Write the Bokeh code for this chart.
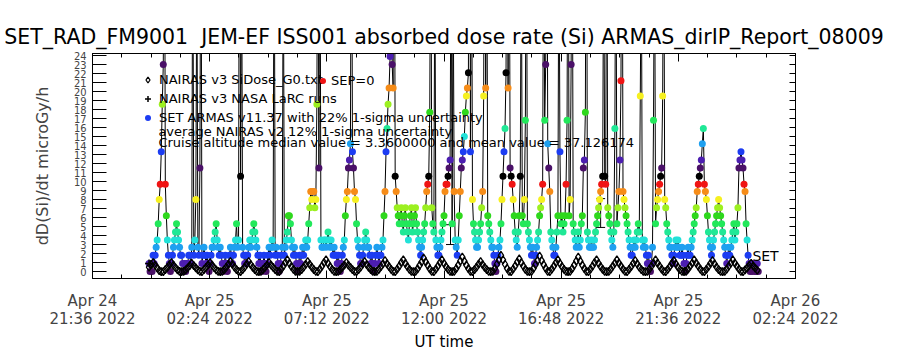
import pandas as pd
from bokeh.plotting import figure
from bokeh.models import (ColumnDataSource, Range1d, LinearAxis, DatetimeAxis, FixedTicker,
                          DatetimeTickFormatter, Legend, LegendItem, Label, Whisker, TeeHead, Title)
from bokeh.embed import file_html
from bokeh.resources import INLINE

# ---------------- data ----------------
title_text = "SET_RAD_FM9001\u00a0 JEM-EF ISS001 absorbed dose rate (Si) ARMAS_dirIP_Report_08009"

# SET ARMAS dose rate (microGy/h), 2.5 min cadence
set_start = "2022-04-24 23:55"
set_cadence = "150s"
set_dose = [
    0.9, 0, 0.9, 0, 1.8, 0.9, 1.8, 2.7, 3.5, 5.3, 8, 9.7, 13.3, 18.6, 23, 55, 9.7, 6.2, 3.5,
    1.8, 0.9, 0, 0.9, 1.8, 2.7, 3.5, 4.4, 5.3, 4.4, 3.5, 2.7, 1.8, 1.8, 0.9, 0, 0.9, 0, 0.9,
    0.9, 1.8, 1.8, 0.9, 2.7, 42, 1.8, 3.5, 8, 35, 2.7, 1.8, 11.5, 48, 0.9, 1.8, 2.7, 1.8, 0.9,
    1.8, 0.9, 0, 0.9, 1.8, 2.7, 2.7, 3.5, 4.4, 5.3, 3.5, 2.7, 1.8, 2.7, 1.8, 0.9, 0, 0.9, 1.8,
    0.9, 0, 0.9, 1.8, 2.7, 1.8, 0.9, 1.8, 2.7, 3.5, 5.3, 2.7, 3.5, 60, 10.6, 38, 2.7, 1.8, 0.9,
    1.8, 0.9, 1.8, 2.7, 3.5, 2.7, 3.5, 4.4, 5.3, 4.4, 3.5, 2.7, 1.8, 0.9, 1.8, 0.9, 0, 0.9, 1.8,
    0.9, 0, 0.9, 1.8, 2.7, 1.8, 2.7, 3.5, 2.7, 45, 1.8, 2.7, 1.8, 0.9, 0, 0.9, 1.8, 2.7, 40,
    1.8, 2.7, 3.5, 4.4, 6.2, 6.2, 5.3, 3.5, 2.7, 1.8, 2.7, 1.8, 0.9, 0, 0.9, 1.8, 0.9, 1.8, 2.7,
    1.8, 2.7, 3.5, 2.7, 3.5, 5.3, 7.1, 8.9, 8, 8.9, 8.9, 7.1, 8, 18.6, 50, 11.5, 44, 3.5, 2.7,
    2.7, 3.5, 3.5, 2.7, 3.5, 4.4, 3.5, 2.7, 3.5, 2.7, 1.8, 2.7, 1.8, 1.8, 0.9, 1.8, 0.9, 0, 0.9,
    1.8, 2.7, 3.5, 6.2, 8, 8.9, 11.5, 12.4, 14.2, 52, 13.3, 11.5, 8.9, 8, 5.3, 3.5, 2.7, 1.8, 0.9,
    0.9, 1.8, 2.7, 3.5, 4.4, 3.5, 2.7, 2.7, 1.8, 0.9, 1.8, 0.9, 0, 0.9, 1.8, 2.7, 1.8, 0.9, 1.8,
    1.8, 2.7, 3.5, 6.2, 8.9, 13.3, 15.9, 18.6, 20.4, 23.9, 65, 23, 20.4, 58, 10.6, 8.9, 7.1, 6.2, 5.3,
    6.2, 7.1, 5.3, 4.4, 6.2, 7.1, 5.3, 4.4, 3.5, 5.3, 6.2, 7.1, 4.4, 5.3, 6.2, 7.1, 5.3, 4.4, 3.5,
    2.7, 1.8, 2.7, 3.5, 4.4, 5.3, 7.1, 8.9, 9.7, 10.6, 17.7, 47, 7.1, 5.3, 4.4, 36, 3.5, 2.7, 1.8,
    1.8, 2.7, 3.5, 4.4, 5.3, 6.2, 8.9, 9.7, 9.7, 10.6, 11.5, 12.4, 40, 5.3, 33, 8.9, 3.5, 2.7, 1.8,
    3.5, 6.2, 8.9, 11.5, 12.4, 13.3, 15, 17.7, 19.5, 20.4, 22.1, 70, 13.3, 45, 8, 5.3, 4.4, 3.5, 2.7,
    2.7, 3.5, 4.4, 5.3, 7.1, 8.9, 19.5, 55, 20.4, 42, 6.2, 5.3, 4.4, 3.5, 2.7, 2.7, 1.8, 0.9, 0,
    0.9, 1.8, 2.7, 3.5, 5.3, 8, 10.6, 13.3, 15.9, 22.1, 62, 20.4, 50, 11.5, 10.6, 9.7, 8, 6.2, 4.4,
    3.5, 2.7, 4.4, 6.2, 10.6, 38, 6.2, 5.3, 8, 16.8, 46, 5.3, 4.4, 3.5, 2.7, 1.8, 2.7, 1.8, 0.9,
    1.8, 2.7, 3.5, 4.4, 6.2, 7.1, 8, 9.7, 44, 16.8, 23, 57, 14.2, 11.5, 8.9, 4.4, 3.5, 2.7, 1.8,
    1.8, 2.7, 4.4, 6.2, 41, 13.3, 5.3, 6.2, 4.4, 5.3, 6.2, 9.7, 16.8, 53, 6.2, 8, 23, 48, 5.3,
    4.4, 3.5, 2.7, 3.5, 4.4, 2.7, 3.5, 5.3, 6.2, 11.5, 12.4, 17.7, 60, 4.4, 3.5, 2.7, 2.7, 3.5, 2.7,
    2.7, 3.5, 4.4, 5.3, 6.2, 7.1, 8, 8.9, 9.7, 10.6, 39, 10.6, 9.7, 47, 7.1, 6.2, 5.3, 4.4, 3.5,
    2.7, 4.4, 15.9, 43, 5.3, 7.1, 8.9, 12.4, 21.2, 56, 8.9, 8, 7.1, 6.2, 5.3, 4.4, 3.5, 2.7, 1.8,
    1.8, 2.7, 3.5, 2.7, 3.5, 4.4, 5.3, 4.4, 19.5, 37, 3.5, 2.7, 3.5, 2.7, 1.8, 0.9, 1.8, 0.9, 0,
    0.9, 2.7, 16.8, 40, 5.3, 7.1, 8, 8.9, 9.7, 10.6, 11.5, 19.5, 45, 8, 7.1, 5.3, 4.4, 3.5, 2.7,
    2.7, 1.8, 0.9, 1.8, 2.7, 3.5, 2.7, 3.5, 2.7, 1.8, 1.8, 2.7, 1.8, 0.9, 0, 0.9, 1.8, 2.7, 1.8,
    1.8, 2.7, 3.5, 4.4, 5.3, 6.2, 7.1, 8.9, 9.7, 10.6, 11.5, 12.4, 14.2, 15.9, 9.7, 8.9, 8, 6.2, 4.4,
    3.5, 2.7, 1.8, 2.7, 3.5, 4.4, 5.3, 6.2, 7.1, 8, 7.1, 6.2, 5.3, 4.4, 3.5, 2.7, 1.8, 0.9, 1.8,
    2.7, 1.8, 2.7, 3.5, 4.4, 5.3, 3.5, 4.4, 5.3, 7.1, 11.5, 12.4, 13.3, 12.4, 11.5, 9.7, 8.9, 5.3, 3.5,
    1.8, 0.9, 0, 0.9, 0, 0.9, 0.9, 0, 0, 0.9, 0,
]

# NAIRAS v3 SiDose_G0 (microGy/h), 5 min cadence
nairas_start = "2022-04-24 23:55"
nairas_cadence = "5min"
nairas_dose = [
    0.5, 0.8, 1.0, 0.7, 0.4, 0.1, 0,
    0, 0.2, 0.45, 0.75, 1.0, 0.7, 0.42, 0.18, 0.02,
    0, 0.02, 0.18, 0.41, 0.65, 0.9, 0.65, 0.41, 0.18, 0.02,
    0, 0.2, 0.45, 0.75, 1.0, 0.7, 0.42, 0.18, 0.02,
    0, 0.02, 0.22, 0.5, 0.79, 1.1, 0.79, 0.5, 0.22, 0.02,
    0, 0.22, 0.5, 0.83, 1.1, 0.77, 0.46, 0.2, 0.02,
    0, 0.02, 0.2, 0.45, 0.72, 1.0, 0.72, 0.45, 0.2, 0.02,
    0, 0.26, 0.59, 0.98, 1.3, 0.91, 0.55, 0.23, 0.02,
    0, 0.02, 0.22, 0.5, 0.79, 1.1, 0.79, 0.5, 0.22, 0.02,
    0, 0.26, 0.59, 0.98, 1.3, 0.91, 0.55, 0.23, 0.02,
    0, 0.02, 0.2, 0.45, 0.72, 1.0, 0.72, 0.45, 0.2, 0.02,
    0, 0.22, 0.5, 0.83, 1.1, 0.77, 0.46, 0.2, 0.02,
    0, 0.02, 0.24, 0.54, 0.86, 1.2, 0.86, 0.54, 0.24, 0.02,
    0, 0.26, 0.59, 0.98, 1.3, 0.91, 0.55, 0.23, 0.02,
    0, 0.02, 0.3, 0.68, 1.08, 1.5, 1.08, 0.68, 0.3, 0.02,
    0, 0.26, 0.59, 0.98, 1.3, 0.91, 0.55, 0.23, 0.02,
    0, 0.02, 0.32, 0.72, 1.15, 1.6, 1.15, 0.72, 0.32, 0.02,
    0, 0.22, 0.5, 0.83, 1.1, 0.77, 0.46, 0.2, 0.02,
    0, 0.02, 0.36, 0.81, 1.3, 1.8, 1.3, 0.81, 0.36, 0.02,
    0, 0.28, 0.63, 1.05, 1.4, 0.98, 0.59, 0.25, 0.02,
    0, 0.02, 0.34, 0.77, 1.22, 1.7, 1.22, 0.77, 0.34, 0.02,
    0, 0.26, 0.59, 0.98, 1.3, 0.91, 0.55, 0.23, 0.02,
    0, 0.02, 0.32, 0.72, 1.15, 1.6, 1.15, 0.72, 0.32, 0.02,
    0, 0.26, 0.59, 0.98, 1.3, 0.91, 0.55, 0.23, 0.02,
    0, 0.02, 0.26, 0.59, 0.94, 1.3, 0.94, 0.59, 0.26, 0.02,
    0, 0.24, 0.54, 0.9, 1.2, 0.84, 0.5, 0.22, 0.02,
    0, 0.02, 0.26, 0.59, 0.94, 1.3, 0.94, 0.59, 0.26, 0.02,
    0, 0.24, 0.54, 0.9, 1.2, 0.84, 0.5, 0.22, 0.02,
    0, 0.02, 0.26, 0.59, 0.94, 1.3, 0.94, 0.59, 0.26, 0.02,
    0, 0.24, 0.54, 0.9, 1.2, 0.84, 0.5, 0.22, 0.02,
    0, 0.02, 0.26, 0.59, 0.94, 1.3, 0.94, 0.59, 0.26, 0.02,
    0, 0.18, 0.41, 0.68, 0.9, 0.63, 0.38, 0.16,
]

# NAIRAS v3 NASA LaRC runs
larc_time = ["2022-04-24 23:55"]
larc_dose = [0.9]

# average NAIRAS v2 with 12% 1-sigma uncertainty (error bars)
v2_time = ["2022-04-25 12:16", "2022-04-25 18:25"]
v2_low = [3.0, 4.9]
v2_high = [5.2, 8.1]

x_tick_times = ["2022-04-24 21:36", "2022-04-25 02:24", "2022-04-25 07:12", "2022-04-25 12:00",
                "2022-04-25 16:48", "2022-04-25 21:36", "2022-04-26 02:24"]
y_tick_values = list(range(0, 25))
x_axis_title = "UT time"

legend_labels = ["NAIRAS v3 SiDose_G0.txt", "NAIRAS v3 NASA LaRC runs",
                 "SET ARMAS v11.37 with 22% 1-sigma uncertainty"]
sep_label = "SEP=0"
note_lines = ["average NAIRAS v2 12% 1-sigma uncertainty",
              "Cruise altitude median value = 3.3600000 and mean value = 37.126174"]

# ---------------- styling ----------------
level_colors = ["#4a1068", "#4c1eb0", "#1c3cf2", "#1ea0f0", "#22e2d8", "#20e896", "#22e85a",
                "#2ed81c", "#9cf020", "#f6f020", "#f68c18", "#f01414", "#000000"]
DOSE_STEP = 0.885
FONT = "DejaVu Sans"
NARROW = "'Liberation Sans Narrow', 'DejaVu Sans Condensed', sans-serif"


def ms(t):
    return pd.Timestamp(t).value / 1e6


set_time = pd.date_range(set_start, periods=len(set_dose), freq=set_cadence)
set_level = [int(round(v / DOSE_STEP)) % len(level_colors) for v in set_dose]
set_color = [level_colors[k] for k in set_level]
nairas_time = pd.date_range(nairas_start, periods=len(nairas_dose), freq=nairas_cadence)

major_ms = [ms(t) for t in x_tick_times]
minor_ms = []
for a, b in zip(major_ms[:-1], major_ms[1:]):
    minor_ms += [a + (b - a) * k / 4 for k in (1, 2, 3)]

p = figure(width=900, height=350, x_axis_type=None, y_axis_type=None,
           x_range=Range1d(major_ms[0], major_ms[-1]), y_range=Range1d(-0.774, 24.226),
           output_backend="svg", toolbar_location=None,
           min_border_left=92, min_border_right=105, min_border_top=53, min_border_bottom=71)
p.outline_line_color = "black"
p.background_fill_color = "white"
p.border_fill_color = "white"

p.title.text = title_text
p.title.align = "center"
p.title.text_font = FONT
p.title.text_font_size = "20.5px"
p.title.text_font_style = "normal"
p.title.text_color = "black"

xt = FixedTicker(ticks=major_ms, minor_ticks=minor_ms)
fmt_str = "%b %d\n%H:%M %Y"
xfmt = DatetimeTickFormatter(microseconds=fmt_str, milliseconds=fmt_str, seconds=fmt_str,
                             minsec=fmt_str, minutes=fmt_str, hourmin=fmt_str, hours=fmt_str,
                             days=fmt_str, months=fmt_str, years=fmt_str)

xb = DatetimeAxis(ticker=xt, formatter=xfmt)
xb.major_tick_in = 8
xb.major_tick_out = 0
xb.minor_tick_in = 4
xb.minor_tick_out = 0
xb.major_label_text_font = FONT
xb.major_label_text_font_size = "15px"
xb.major_label_text_line_height = 1.0
xb.major_label_standoff = 13
p.add_layout(xb, "below")

# x axis title as a bottom panel title, centred under the plot area
p.add_layout(Title(text=x_axis_title, align="center", text_font=FONT, text_font_size="15px",
                   text_font_style="normal", text_color="black", standoff=0, offset=0), "below")

xtop = DatetimeAxis(ticker=xt, formatter=xfmt)
xtop.major_tick_in = 8
xtop.major_tick_out = 0
xtop.minor_tick_in = 4
xtop.minor_tick_out = 0
xtop.major_label_text_font_size = "1px"
xtop.major_label_text_color = None
xtop.major_label_standoff = 0
p.add_layout(xtop, "above")

yt = FixedTicker(ticks=y_tick_values, minor_ticks=[])
yl = LinearAxis(ticker=yt, axis_label="dD(Si)/dt microGy/h")
yl.major_tick_in = 14
yl.major_tick_out = 0
yl.major_label_text_font = NARROW
yl.major_label_text_font_size = "11px"
yl.major_label_standoff = 6
yl.axis_label_text_font = FONT
yl.axis_label_text_font_size = "16px"
yl.axis_label_text_font_style = "normal"
yl.axis_label_standoff = 19
p.add_layout(yl, "left")

yr = LinearAxis(ticker=yt)
yr.major_tick_in = 6
yr.major_tick_out = 0
yr.major_label_text_font_size = "1px"
yr.major_label_text_color = None
yr.major_label_standoff = 0
p.add_layout(yr, "right")

# ---------------- glyphs ----------------
set_src = ColumnDataSource(dict(t=set_time, v=set_dose, c=set_color))
p.line("t", "v", source=set_src, line_color="black", line_width=1)
r_set = p.scatter("t", "v", source=set_src, marker="circle", size=7, fill_color="c", line_color=None)

nairas_src = ColumnDataSource(dict(t=nairas_time, v=nairas_dose))
r_nairas = p.scatter("t", "v", source=nairas_src, marker="diamond", size=8,
                     fill_color=None, line_color="black", line_width=1.3)

larc_src = ColumnDataSource(dict(t=pd.to_datetime(larc_time), v=larc_dose))
r_larc = p.scatter("t", "v", source=larc_src, marker="cross", size=8,
                   line_color="black", line_width=1.5)

v2_src = ColumnDataSource(dict(t=pd.to_datetime(v2_time), lo=v2_low, hi=v2_high))
p.add_layout(Whisker(source=v2_src, base="t", lower="lo", upper="hi", dimension="height",
                     line_color="black", line_width=1,
                     upper_head=TeeHead(size=9, line_color="black"),
                     lower_head=TeeHead(size=9, line_color="black")))

# legend glyphs taken from SET points of the matching colour
idx_blue = set_level.index(2)
idx_red = set_level.index(11)

leg = Legend(items=[LegendItem(label=legend_labels[0], renderers=[r_nairas], index=0),
                    LegendItem(label=legend_labels[1], renderers=[r_larc], index=0),
                    LegendItem(label=legend_labels[2], renderers=[r_set], index=idx_blue)],
             location=(48, 153), padding=0, margin=0, spacing=4,
             glyph_width=15, glyph_height=15, label_standoff=4,
             label_text_font=FONT, label_text_font_size="13px", label_text_color="black",
             border_line_color=None, background_fill_alpha=0)
p.add_layout(leg)

leg2 = Legend(items=[LegendItem(label=sep_label, renderers=[r_set], index=idx_red)],
              location=(223, 190), padding=0, margin=0,
              glyph_width=15, glyph_height=15, label_standoff=1,
              label_text_font=FONT, label_text_font_size="13px", label_text_color="black",
              border_line_color=None, background_fill_alpha=0)
p.add_layout(leg2)

note_x = ms("2022-04-25 00:18")
for txt, yv in zip(note_lines, [15.6, 14.38]):
    p.add_layout(Label(x=note_x, y=yv, text=txt, text_font=FONT, text_font_size="13px",
                       text_baseline="middle", text_align="left", text_color="black"))

p.add_layout(Label(x=ms("2022-04-26 00:38"), y=1.77, text="SET", text_font=FONT,
                   text_font_size="14px", text_baseline="middle", text_align="left",
                   text_color="black"))

open("out.html", "w").write(file_html(p, INLINE))
